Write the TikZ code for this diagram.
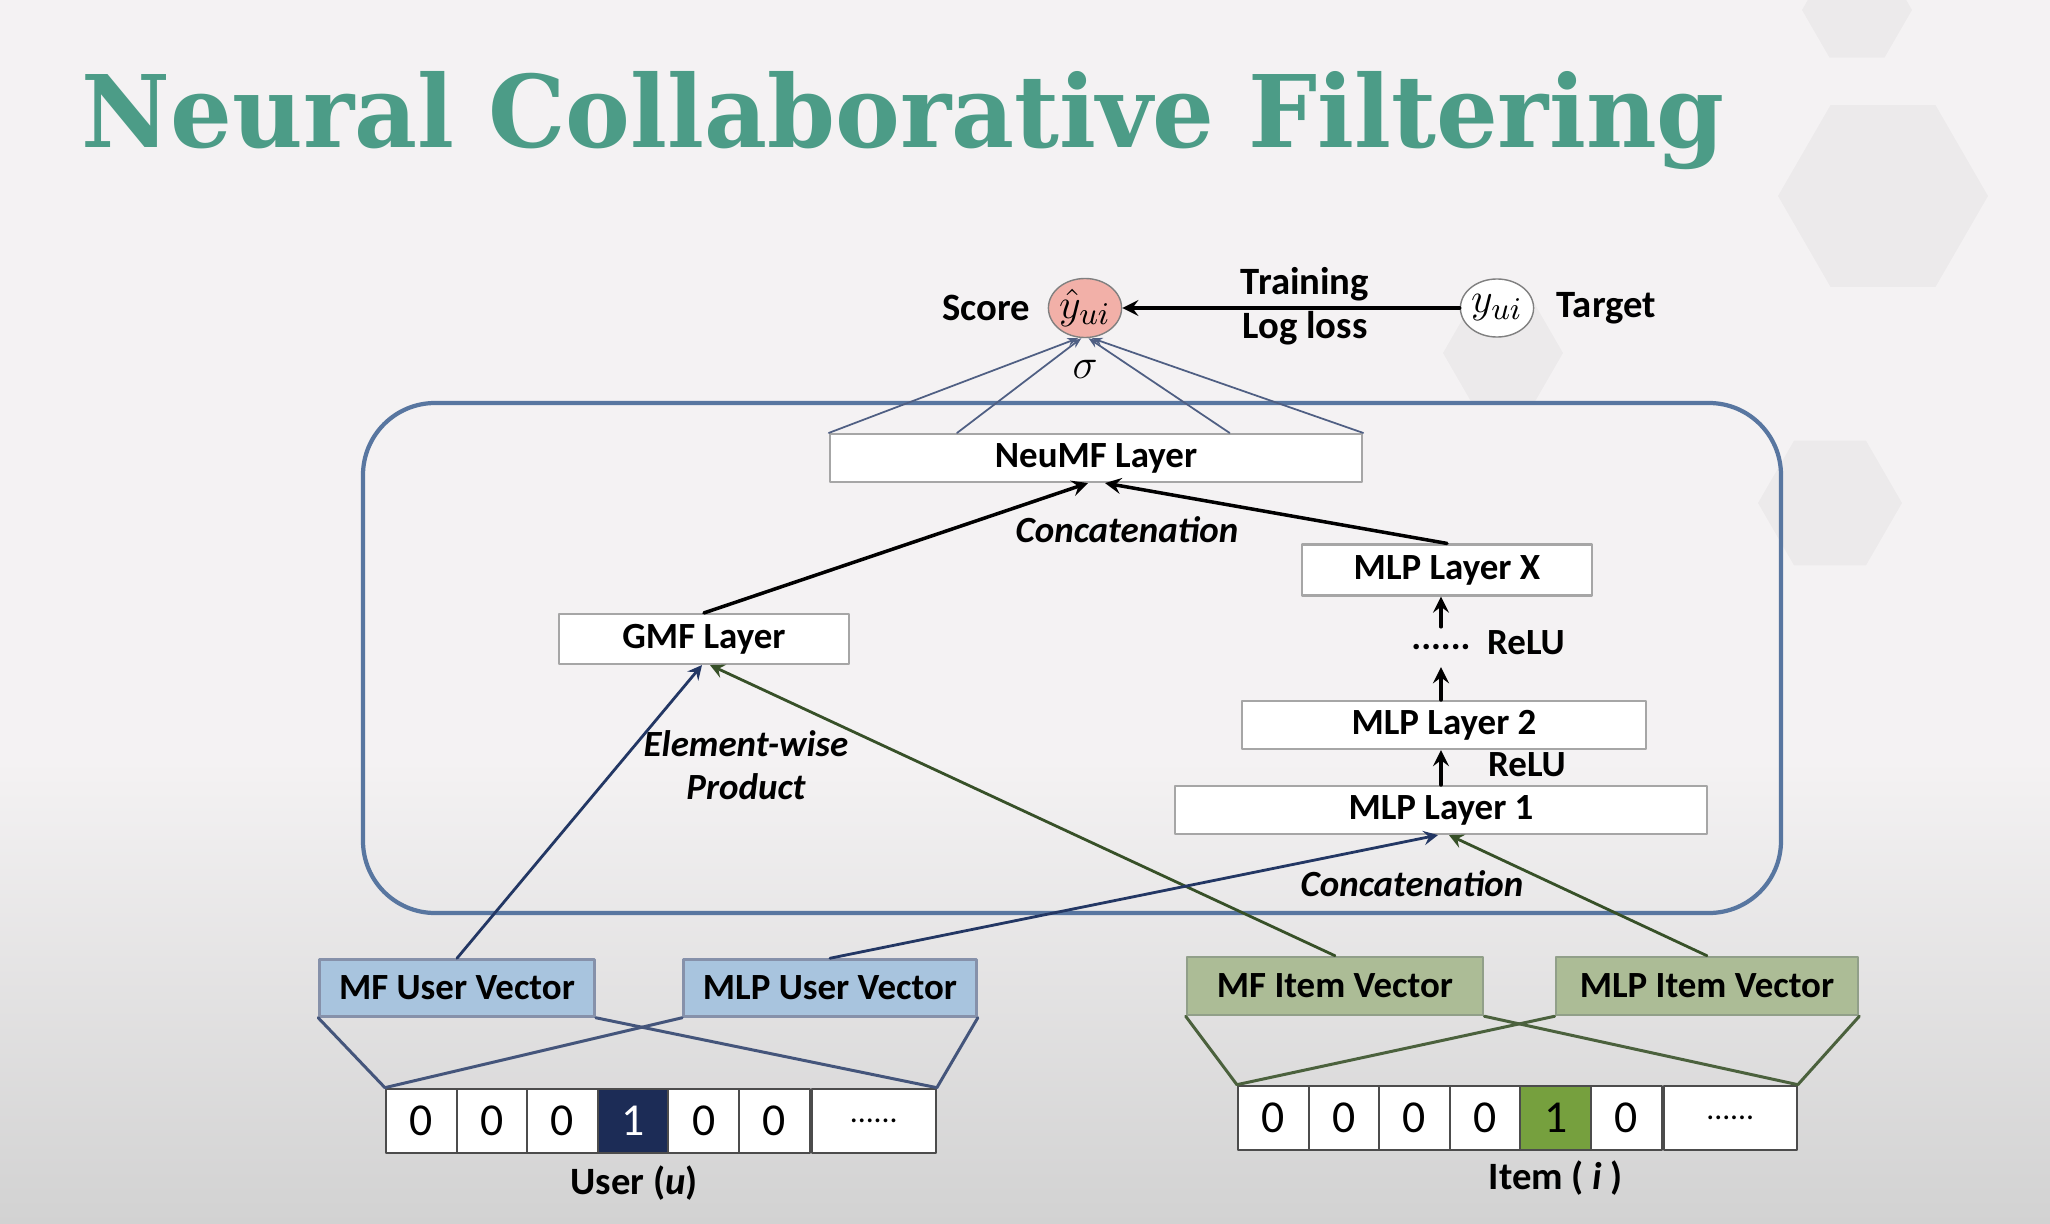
\documentclass[tikz,border=0pt]{standalone}
\usepackage{fontspec}
\usepackage{graphicx}
\setmainfont{Carlito}
\newfontfamily\titlefont{DejaVu Serif}
\usetikzlibrary{positioning,shapes.geometric,calc,arrows.meta}

\definecolor{titlegreen}{RGB}{76,156,135}
\definecolor{bgtop}{RGB}{244,242,243}
\definecolor{bgbot}{RGB}{210,210,210}
\definecolor{frameblue}{RGB}{88,118,160}
\definecolor{userblue}{RGB}{168,196,222}
\definecolor{itemgreen}{RGB}{172,188,150}
\definecolor{navycell}{RGB}{28,44,86}
\definecolor{onegreen}{RGB}{118,160,62}
\definecolor{arrblue}{RGB}{35,55,100}
\definecolor{arrgreen}{RGB}{55,80,40}
\definecolor{scorered}{RGB}{242,176,168}

\begin{document}
\begin{tikzpicture}[x=0.01cm,y=-0.01cm,>=stealth,line join=round,line cap=round,
  font=\fontsize{10.5}{12.4}\selectfont\bfseries,
  layer/.style={draw=gray!70,fill=white,line width=0.6pt,inner sep=0pt},
  uvec/.style={draw=arrblue!55,fill=userblue,line width=0.7pt,inner sep=0pt,minimum height=0.57cm},
  ivec/.style={draw=arrgreen!55,fill=itemgreen,line width=0.7pt,inner sep=0pt,minimum height=0.58cm},
  cell/.style={draw=gray!60!black,fill=white,line width=0.6pt,minimum width=0.706cm,minimum height=0.645cm,
    inner sep=0pt,font=\fontsize{13}{15}\selectfont\mdseries},
  lbl/.style={font=\fontsize{10.5}{12.2}\selectfont\bfseries\itshape,align=center},
  fan/.style={arrblue!80,line width=0.5pt,-{Stealth[length=3pt]}},
  ufun/.style={arrblue!85,line width=0.85pt},
  ifun/.style={arrgreen!90,line width=0.85pt},
  uarr/.style={arrblue,line width=0.8pt,->},
  iarr/.style={arrgreen,line width=0.8pt,->},
  karr/.style={black,line width=1pt,->}]
% frame and background
\useasboundingbox (0,0) rectangle (2050,1224);
\fill[bgtop] (0,0) rectangle (2050,1224);
\shade[top color=bgtop,bottom color=bgbot] (0,760) rectangle (2050,1224);
\foreach \cx/\cy/\r in {1857/10/55,1883/196/105,1830/503/72,1503/353/60}
  \fill[black,opacity=0.03] (\cx,\cy) +(0:\r) -- +(60:\r) -- +(120:\r) -- +(180:\r) -- +(240:\r) -- +(300:\r) -- cycle;
% title
\node[anchor=base west,inner sep=0pt] (title) at (81,148)
  {\resizebox{16.42cm}{0.76cm}{\titlefont\bfseries\color{titlegreen}Neural Collaborative Filtering}};
% output
\node[ellipse,draw=gray,fill=scorered,minimum width=0.71cm,minimum height=0.59cm,inner sep=0pt] (yhat) at (1085,308)
  {\fontsize{13}{15}\selectfont$\hat{y}_{ui}$};
\node[ellipse,draw=gray,fill=white,minimum width=0.71cm,minimum height=0.58cm,inner sep=0pt] (yt) at (1497,308)
  {\fontsize{13}{15}\selectfont$y_{ui}$};
\node[left=0.05cm of yhat,font=\fontsize{11}{13}\selectfont\bfseries] (score) {Score};
\node[right=0.1cm of yt,font=\fontsize{11}{13}\selectfont\bfseries] (target) {Target};
\node[align=center,font=\fontsize{11}{12.6}\selectfont\bfseries] (loss) at (1305,306) {Training\\Log loss};
\draw[karr] (yt) -- (yhat);
\node (sig) at (1085,369) {\fontsize{12}{14}\selectfont$\sigma$};
% NeuMF block
\draw[frameblue,line width=1.2pt,rounded corners=0.72cm] (363,403) rectangle (1781,913);
\node[layer,minimum width=5.32cm,minimum height=0.48cm] (neumf) at (1096,458) {NeuMF Layer};
\foreach \p in {0,0.24,0.75,1}
  \draw[fan] ($(neumf.north west)!\p!(neumf.north east)$) -- ($(yhat.south)+(\p*14-7,0)$);
\node[layer,minimum width=2.89cm,minimum height=0.5cm] (gmf) at (704,639) {GMF Layer};
\node[layer,minimum width=2.9cm,minimum height=0.51cm] (mlpx) at (1447,570) {MLP Layer X};
\node[layer,minimum width=4.03cm,minimum height=0.48cm] (mlp2) at (1444,725) {MLP Layer 2};
\node[layer,minimum width=5.32cm,minimum height=0.48cm] (mlp1) at (1441,810) {MLP Layer 1};
\node[inner sep=0pt,minimum height=0.39cm] (dots) at (1441,647) {......};
\node (relu2) at (1526,643) {ReLU};
\node (relu1) at (1527,765) {ReLU};
\draw[karr] (gmf.north) -- ([xshift=-0.08cm]neumf.south);
\draw[karr] (mlpx.north) -- ([xshift=0.09cm]neumf.south);
\draw[karr] (dots.north) -- (dots.north |- mlpx.south);
\draw[karr] (dots.south |- mlp2.north) -- (dots.south);
\draw[karr] (mlp1.north) -- (mlp1.north |- mlp2.south);
\node[lbl] (cat1) at (1127,530) {Concatenation};
\node[lbl] (prod) at (746,765) {Element-wise\\Product};
\node[lbl] (cat2) at (1412,884) {Concatenation};
% embedding vectors
\node[uvec,minimum width=2.75cm] (mfu) at (457,988) {MF User Vector};
\node[uvec,minimum width=2.93cm] (mlpu) at (830,988) {MLP User Vector};
\node[ivec,minimum width=2.96cm] (mfi) at (1335,986) {MF Item Vector};
\node[ivec,minimum width=3.02cm] (mlpi) at (1707,986) {MLP Item Vector};
\draw[uarr] (mfu.north) -- ([xshift=-0.02cm]gmf.south);
\draw[iarr] (mfi.north) -- ([xshift=0.06cm]gmf.south);
\draw[uarr] (mlpu.north) -- ([xshift=-0.03cm]mlp1.south);
\draw[iarr] (mlpi.north) -- ([xshift=0.08cm]mlp1.south);
% one-hot inputs
\foreach \v/\f/\t [count=\k] in {0/white/black,0/white/black,0/white/black,1/navycell/white,0/white/black,0/white/black}
  \node[cell,fill=\f,text=\t] (u\k) at ({386+70.6*(\k-0.5)},1121) {\v};
\node[cell,minimum width=1.24cm,anchor=west,font=\fontsize{9}{11}\selectfont\mdseries] (ud) at (u6.east) {......};
\foreach \v/\f [count=\k] in {0/white,0/white,0/white,0/white,1/onegreen,0/white}
  \node[cell,fill=\f] (i\k) at ({1238+70.6*(\k-0.5)},1118) {\v};
\node[cell,minimum width=1.33cm,anchor=west,font=\fontsize{9}{11}\selectfont\mdseries] (id) at (i6.east) {......};
\draw[ufun] (mfu.south west) -- (u1.north west);
\draw[ufun] (mfu.south east) -- (ud.north east);
\draw[ufun] (mlpu.south west) -- (u1.north west);
\draw[ufun] (mlpu.south east) -- (ud.north east);
\draw[ifun] (mfi.south west) -- (i1.north west);
\draw[ifun] (mfi.south east) -- (id.north east);
\draw[ifun] (mlpi.south west) -- (i1.north west);
\draw[ifun] (mlpi.south east) -- (id.north east);
\node[font=\fontsize{11}{13}\selectfont\bfseries] (ulbl) at (634,1183) {User (\textit{u})};
\node[font=\fontsize{11}{13}\selectfont\bfseries] (ilbl) at (1556,1178) {Item ( \textit{i} )};
\end{tikzpicture}
\end{document}
